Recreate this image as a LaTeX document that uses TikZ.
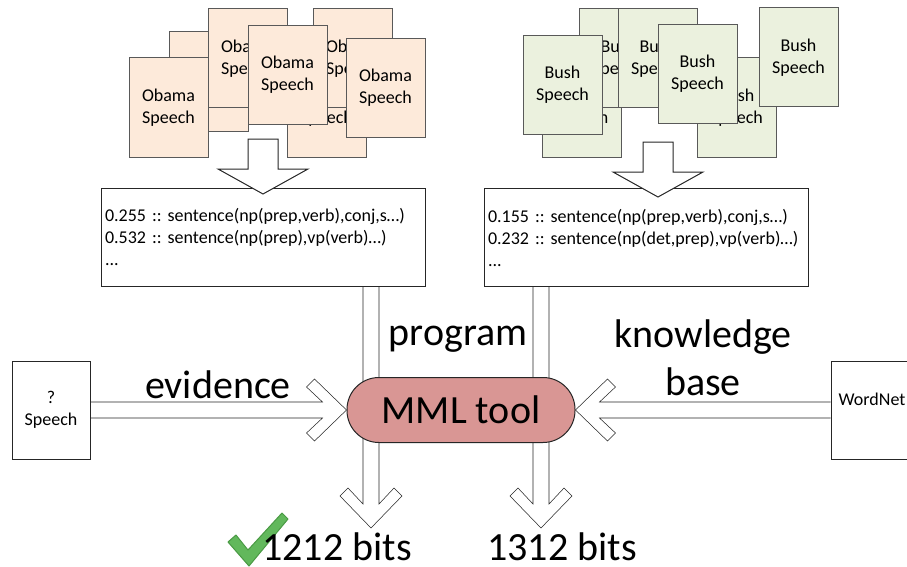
\documentclass[tikz,border=0pt]{standalone}
\usepackage{fontspec}
\setmainfont{Carlito}
\frenchspacing
\usepackage{tikz}
\usetikzlibrary{calc, backgrounds}

\definecolor{obamafill}{HTML}{FDEADA}
\definecolor{bushfill}{HTML}{EBF1DE}
\definecolor{toolfill}{HTML}{D99694}
\definecolor{checkgreen}{HTML}{62B85C}
\definecolor{checkline}{HTML}{4A9A44}

\begin{document}
\begin{tikzpicture}[
    x=0.75pt, y=-0.75pt, line width=0.75pt,
    doc/.style={rectangle, draw=black!65, minimum width=59.25pt, minimum height=74.25pt, inner sep=0pt, align=center, font=\fontsize{13.5}{16.5}\selectfont},
    obamadoc/.style={doc, fill=obamafill},
    bushdoc/.style={doc, fill=bushfill},
    rules/.style={rectangle, draw=black!85, fill=white, minimum width=243pt, minimum height=73.5pt, text width=237pt, inner xsep=3pt, align=left, font=\fontsize{13.5}{16.5}\selectfont},
    source/.style={rectangle, draw=black!85, fill=white, minimum height=73.5pt, inner sep=0pt, align=center, font=\fontsize{13.5}{16.5}\selectfont},
    tool/.style={rectangle, rounded corners=24pt, draw=black!85, fill=toolfill, minimum width=171pt, minimum height=48.75pt, font=\fontsize{30}{36}\selectfont},
    biglabel/.style={inner sep=0pt, align=center, font=\fontsize{30}{36}\selectfont},
    feed/.style={draw=black!85, fill=white, to path={
        ($(\tikztostart)!11.25pt!90:(\tikztotarget)$)
        -- ($(\tikztotarget)!18.75pt!(\tikztostart)!11.25pt!-90:(\tikztostart)$)
        -- ($(\tikztotarget)!18.75pt!(\tikztostart)!33.75pt!-90:(\tikztostart)$)
        -- (\tikztotarget)
        -- ($(\tikztotarget)!18.75pt!(\tikztostart)!33.75pt!90:(\tikztostart)$)
        -- ($(\tikztotarget)!18.75pt!(\tikztostart)!11.25pt!90:(\tikztostart)$)
        -- ($(\tikztostart)!11.25pt!-90:(\tikztotarget)$) -- cycle}},
    hollow/.style={draw=black!85, fill=white, to path={
        ($(\tikztostart)!6pt!90:(\tikztotarget)$)
        -- ($(\tikztotarget)!18pt!(\tikztostart)!6pt!-90:(\tikztostart)$)
        -- ($(\tikztotarget)!30pt!(\tikztostart)!17.25pt!-90:(\tikztostart)$)
        -- ($(\tikztotarget)!24pt!(\tikztostart)!23.25pt!-90:(\tikztostart)$)
        -- (\tikztotarget)
        -- ($(\tikztotarget)!24pt!(\tikztostart)!23.25pt!90:(\tikztostart)$)
        -- ($(\tikztotarget)!30pt!(\tikztostart)!17.25pt!90:(\tikztostart)$)
        -- ($(\tikztotarget)!18pt!(\tikztostart)!6pt!90:(\tikztostart)$)
        -- ($(\tikztostart)!6pt!-90:(\tikztotarget)$)}},
    ]

    \useasboundingbox (0,0) rectangle (907,567);
    \clip (0,0) rectangle (907,567);

    \node[obamadoc] (obamaA) at (208.5,81.5) {Obama\\Speech};
    \node[obamadoc] (obamaF) at (326.5,107.5) {Obama\\Speech};
    \node[obamadoc] (obamaB) at (247.5,58.5) {Obama\\Speech};
    \node[obamadoc] (obamaE) at (352.5,58.5) {Obama\\Speech};
    \node[obamadoc] (obamaD) at (168.5,107.5) {Obama\\Speech};
    \node[obamadoc] (obamaC) at (287.5,75) {Obama\\Speech};
    \node[obamadoc] (obamaG) at (385.5,88) {Obama\\Speech};

    \node[bushdoc] (bushA) at (582,107.5) {Bush\\Speech};
    \node[bushdoc] (bushB) at (618.5,58.5) {Bush\\Speech};
    \node[bushdoc] (bushC) at (657.5,58.5) {Bush\\Speech};
    \node[bushdoc] (bushF) at (736.5,107.5) {Bush\\Speech};
    \node[bushdoc] (bushD) at (562.5,85) {Bush\\Speech};
    \node[bushdoc] (bushE) at (697.5,74) {Bush\\Speech};
    \node[bushdoc] (bushG) at (798.5,57.5) {Bush\\Speech};

    \node[rules] (obamarules) at (263,237) {0.255 :: sentence(np(prep,verb),conj,s…)\\0.532 :: sentence(np(prep),vp(verb)…)\\...};
    \node[rules] (bushrules) at (646,237.5) {0.155 :: sentence(np(prep,verb),conj,s…)\\0.232 :: sentence(np(det,prep),vp(verb)…)\\...};

    \coordinate (obamafeed) at (263,139);
    \coordinate (obamatip) at (263,194);
    \coordinate (bushfeed) at (658,142);
    \coordinate (bushtip) at (658,197);
    \draw[feed] (obamafeed) to (obamatip);
    \draw[feed] (bushfeed) to (bushtip);

    \node[source, minimum width=58.5pt] (speech) at (51,410) {?\\Speech};
    \node[source, minimum width=61.5pt] (wordnet) at (872,410) {WordNet\\\mbox{}};

    \node[tool] (tool) at (461,410) {MML tool};

    \coordinate (obamabits) at (371,528);
    \coordinate (bushbits) at (541,528);
    \begin{scope}[on background layer]
        \draw[hollow] (obamarules.south -| obamabits) to (obamabits);
        \draw[hollow] (bushrules.south -| bushbits) to (bushbits);
        \draw[hollow] (speech.east) to (tool.west);
        \draw[hollow] (wordnet.west) to (tool.east);
    \end{scope}

    \node[biglabel, anchor=base] (evidence) at (218,398) {evidence};
    \node[biglabel, anchor=base] (program) at (458,345) {program};
    \node[biglabel] (knowledge) at (703,358) {knowledge\\base};

    \filldraw[fill=checkgreen, draw=checkline, line join=round] (228,542) -- (236,535) -- (248,550) -- (282,513) -- (288,519) -- (249,566) -- cycle;

    \node[biglabel, anchor=base] (obamascore) at (337,560) {1212 bits};
    \node[biglabel, anchor=base] (bushscore) at (562,560) {1312 bits};
\end{tikzpicture}
\end{document}
